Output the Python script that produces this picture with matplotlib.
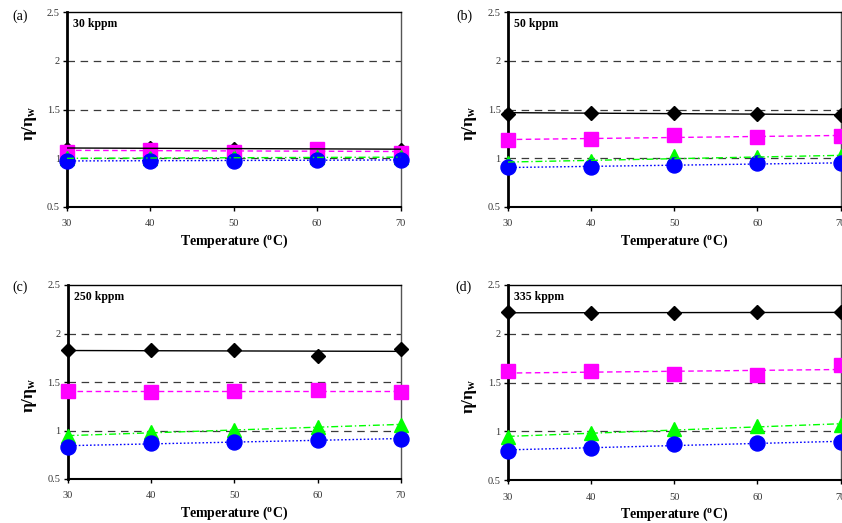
import numpy as np
import matplotlib
matplotlib.use("Agg")
import matplotlib.pyplot as plt
from matplotlib.ticker import FormatStrFormatter

plt.rcParams['font.family'] = ['Liberation Serif', 'DejaVu Serif']
plt.rcParams['mathtext.fontset'] = 'custom'
plt.rcParams['mathtext.rm'] = 'Liberation Serif'
plt.rcParams['mathtext.it'] = 'Liberation Serif:italic'
plt.rcParams['mathtext.bf'] = 'Liberation Serif:bold'

temperature = [30, 40, 50, 60, 70]
panel_tags = ['(a)', '(b)', '(c)', '(d)']
panel_titles = ['30 kppm', '50 kppm', '250 kppm', '335 kppm']

diamond_a = [1.10, 1.11, 1.10, 1.10, 1.09]
square_a = [1.07, 1.09, 1.07, 1.10, 1.05]
triangle_a = [1.00, 1.00, 1.01, 1.01, 1.01]
circle_a = [0.975, 0.975, 0.975, 0.98, 0.985]

diamond_b = [1.46, 1.47, 1.465, 1.46, 1.44]
square_b = [1.19, 1.195, 1.235, 1.22, 1.23]
triangle_b = [0.955, 0.972, 1.02, 1.014, 1.02]
circle_b = [0.907, 0.914, 0.928, 0.948, 0.95]

diamond_c = [1.826, 1.83, 1.83, 1.77, 1.845]
square_c = [1.405, 1.40, 1.41, 1.42, 1.395]
triangle_c = [0.94, 0.98, 1.01, 1.04, 1.055]
circle_c = [0.835, 0.873, 0.88, 0.90, 0.914]

diamond_d = [2.22, 2.21, 2.215, 2.22, 2.22]
square_d = [1.617, 1.617, 1.583, 1.576, 1.683]
triangle_d = [0.94, 0.98, 1.02, 1.055, 1.065]
circle_d = [0.80, 0.83, 0.87, 0.88, 0.885]

panels = [
    (diamond_a, square_a, triangle_a, circle_a),
    (diamond_b, square_b, triangle_b, circle_b),
    (diamond_c, square_c, triangle_c, circle_c),
    (diamond_d, square_d, triangle_d, circle_d),
]

styles = [
    dict(marker='D', color='black', ms=6.8, ls='-'),
    dict(marker='s', color='#FF00FF', ms=9.4, ls=(0, (4, 2.5))),
    dict(marker='^', color='#00FF00', ms=10, ls=(0, (5, 2, 1, 2))),
    dict(marker='o', color='#0000FF', ms=10.8, ls=(0, (1.2, 1.5))),
]

W, H = 842, 523
fig = plt.figure(figsize=(W / 100, H / 100), dpi=100)

# axes boxes in pixels: left, top, right, bottom
boxes = [(67, 12.3, 400.5, 207), (507.7, 12.3, 840.5, 207),
         (67.5, 285, 401, 479), (507.7, 285, 840.5, 480)]
tag_pos = [(20, 16), (464, 16), (20, 287), (463, 287)]

for i, (box, series) in enumerate(zip(boxes, panels)):
    l, t, r, b = box
    ax = fig.add_axes([l / W, 1 - b / H, (r - l) / W, (b - t) / H])
    ax.set_xlim(30, 70)
    ax.set_ylim(0.5, 2.5)
    ax.set_xticks(temperature)
    ax.set_yticks([0.5, 1, 1.5, 2, 2.5])
    ax.yaxis.set_major_formatter(FormatStrFormatter('%g'))
    ax.tick_params(axis='both', direction='out', length=3, width=1,
                   labelsize=7.5, labelcolor='#333333', color='black')
    ax.tick_params(axis='x', pad=6)
    ax.tick_params(axis='y', pad=2)
    for gy in [1, 1.5, 2]:
        ax.axhline(gy, color='#3a3a3a', lw=0.9, ls=(0, (6, 4.5)), zorder=1)
    ax.spines['left'].set_linewidth(2.0)
    ax.spines['bottom'].set_linewidth(1.5)
    ax.spines['top'].set_linewidth(1.0)
    ax.spines['right'].set_linewidth(1.0)
    ax.spines['right'].set_color('#555555')
    x = np.array(temperature, dtype=float)
    for k, (vals, st) in enumerate(zip(series, styles)):
        ax.plot(temperature, vals, ls='none', marker=st['marker'], color=st['color'],
                ms=st['ms'], mec=st['color'], clip_on=False, zorder=3 + k)
    for k, (vals, st) in enumerate(zip(series, styles)):
        p = np.polyfit(x, np.array(vals), 1)
        ax.plot([30, 70], np.polyval(p, [30, 70]), color=st['color'], lw=1.0,
                ls=st['ls'], zorder=10 + k)
    ax.set_xlabel(r'Temperature ($^{\mathbf{o}}$C)', fontsize=10, fontweight='bold', labelpad=3)
    ax.set_ylabel(r'$\mathbf{\eta/\eta}_{\mathbf{w}}$', fontsize=12.5, fontweight='bold')
    ax.yaxis.set_label_coords(-0.085, 0.43)
    ax.text(6 / (r - l), 1 - 12 / (b - t), panel_titles[i], transform=ax.transAxes,
            fontsize=8.5, fontweight='bold', va='center', ha='left')
    fig.text(tag_pos[i][0] / W, 1 - tag_pos[i][1] / H, panel_tags[i], fontsize=10,
             ha='center', va='center')

fig.savefig('out.png', dpi=100)
